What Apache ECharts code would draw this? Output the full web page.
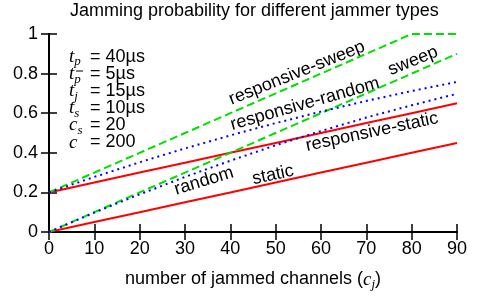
<!DOCTYPE html>
<html>
<head>
<meta charset="utf-8">
<script src="https://cdn.jsdelivr.net/npm/echarts@6/dist/echarts.min.js"></script>
<style>
  html, body { margin: 0; padding: 0; background: #fff; }
  #chart { width: 478px; height: 296px; }
</style>
</head>
<body>
<div id="chart"></div>
<script>
// number of jammed channels
const channels = [0, 10, 20, 30, 40, 50, 60, 70, 80, 90];
// jamming probability per jammer type, read at each channel count
const staticJ = [0, 0.05, 0.10, 0.15, 0.20, 0.25, 0.30, 0.35, 0.40, 0.45];
const respStatic = [0.20, 0.25, 0.30, 0.35, 0.40, 0.45, 0.50, 0.55, 0.60, 0.65];
const randomJ = [0, 0.098, 0.19, 0.278, 0.36, 0.438, 0.51, 0.578, 0.64, 0.698];
const respRandom = [0.20, 0.278, 0.352, 0.422, 0.488, 0.55, 0.608, 0.662, 0.712, 0.758];
const sweepJ = [0, 0.10, 0.20, 0.30, 0.40, 0.50, 0.60, 0.70, 0.80, 0.90];
const respSweep = [0.20, 0.30, 0.40, 0.50, 0.60, 0.70, 0.80, 0.90, 1.00, 1.00];

// parameter box text
const paramSyms = [["t", "p"], ["t", "p"], ["t", "j"], ["t", "s"], ["c", "s"], ["c", ""]];
const paramVals = ["= 40µs", "= 5µs", "= 15µs", "= 10µs", "= 20", "= 200"];

const sans = "Liberation Sans";
const serif = "Liberation Serif";
const fs = 18;

function pairs(ys) {
  return channels.map((x, i) => [x, ys[i]]);
}

const red = "#ff0000", green = "#00e000", blue = "#0000ff";

function line(name, ys, color, type) {
  return {
    name: name,
    type: "line",
    data: pairs(ys),
    showSymbol: false,
    symbol: "none",
    animation: false,
    lineStyle: { color: color, width: 2, type: type, cap: "butt" },
  };
}

function lineLabel(text, x, y, deg) {
  return {
    type: "text",
    x: x,
    y: y,
    rotation: (deg * Math.PI) / 180,
    style: {
      text: text,
      fill: "#000",
      font: fs + "px " + sans,
      align: "center",
      verticalAlign: "middle",
    },
  };
}

const richSym = {
  i: { fontFamily: serif, fontStyle: "italic", fontSize: 19, color: "#000" },
  s: { fontFamily: serif, fontStyle: "italic", fontSize: 13, color: "#000", padding: [10, 0, 0, 0] },
};

const graphic = [];
paramSyms.forEach((p, i) => {
  const y = 57 + 17.1 * i;
  graphic.push({
    type: "text",
    x: 69,
    y: y,
    style: {
      text: "{i|" + p[0] + "}" + (p[1] ? "{s|" + p[1] + "}" : ""),
      rich: richSym,
      verticalAlign: "middle",
    },
  });
  graphic.push({
    type: "text",
    x: 90,
    y: y,
    style: { text: paramVals[i], fill: "#000", font: fs + "px " + sans, verticalAlign: "middle" },
  });
});
// bar over the p of the second line
graphic.push({
  type: "line",
  shape: { x1: 76, y1: 71, x2: 83, y2: 71 },
  style: { stroke: "#000", lineWidth: 1 },
});

graphic.push(
  lineLabel("responsive-sweep", 297, 73, 22),
  lineLabel("sweep", 413, 61, 22),
  lineLabel("responsive-random", 305, 104, 16),
  lineLabel("responsive-static", 372, 132, 12),
  lineLabel("random", 204, 181, 17),
  lineLabel("static", 273, 175, 12)
);

const axisLineStyle = { lineStyle: { color: "#000", width: 2 } };
const tickStyle = { show: true, inside: true, length: 8, lineStyle: { color: "#000", width: 1.5 } };

var myChart = echarts.init(document.getElementById("chart"), null, { renderer: "canvas" });
myChart.setOption({
  animation: false,
  title: {
    text: "Jamming probability for different jammer types",
    left: 65,
    top: -3,
    textStyle: { fontFamily: sans, fontSize: fs, fontWeight: "normal", color: "#000" },
  },
  grid: { left: 49, right: 21, top: 34, bottom: 64, outerBoundsMode: "none" },
  xAxis: [
    {
      type: "value",
      min: 0,
      max: 90,
      interval: 10,
      name: "number of jammed channels ({i|c}{s|j})",
      nameLocation: "middle",
      nameGap: 36,
      nameTextStyle: {
        fontFamily: sans,
        fontSize: fs,
        color: "#000",
        rich: {
          i: { fontFamily: serif, fontStyle: "italic", fontSize: 19, color: "#000" },
          s: { fontFamily: serif, fontStyle: "italic", fontSize: 13, color: "#000", padding: [10, 0, 0, 0] },
        },
      },
      axisLine: axisLineStyle,
      axisTick: tickStyle,
      axisLabel: { fontFamily: sans, fontSize: fs, color: "#000", margin: 8 },
      splitLine: { show: false },
    },
    {
      type: "value",
      position: "top",
      min: 0,
      max: 90,
      interval: 10,
      axisLine: axisLineStyle,
      axisTick: tickStyle,
      axisLabel: { show: false },
      splitLine: { show: false },
    },
  ],
  yAxis: [
    {
      type: "value",
      min: 0,
      max: 1,
      interval: 0.2,
      axisLine: axisLineStyle,
      axisTick: tickStyle,
      axisLabel: { fontFamily: sans, fontSize: fs, color: "#000", margin: 11 },
      splitLine: { show: false },
    },
    {
      type: "value",
      position: "right",
      min: 0,
      max: 1,
      interval: 0.2,
      axisLine: axisLineStyle,
      axisTick: tickStyle,
      axisLabel: { show: false },
      splitLine: { show: false },
    },
  ],
  series: [
    line("static", staticJ, red, "solid"),
    line("responsive-static", respStatic, red, "solid"),
    line("sweep", sweepJ, green, [8, 4]),
    line("responsive-sweep", respSweep, green, [8, 4]),
    line("random", randomJ, blue, [2, 4]),
    line("responsive-random", respRandom, blue, [2, 4]),
  ],
  graphic: graphic,
});
</script>
</body>
</html>
